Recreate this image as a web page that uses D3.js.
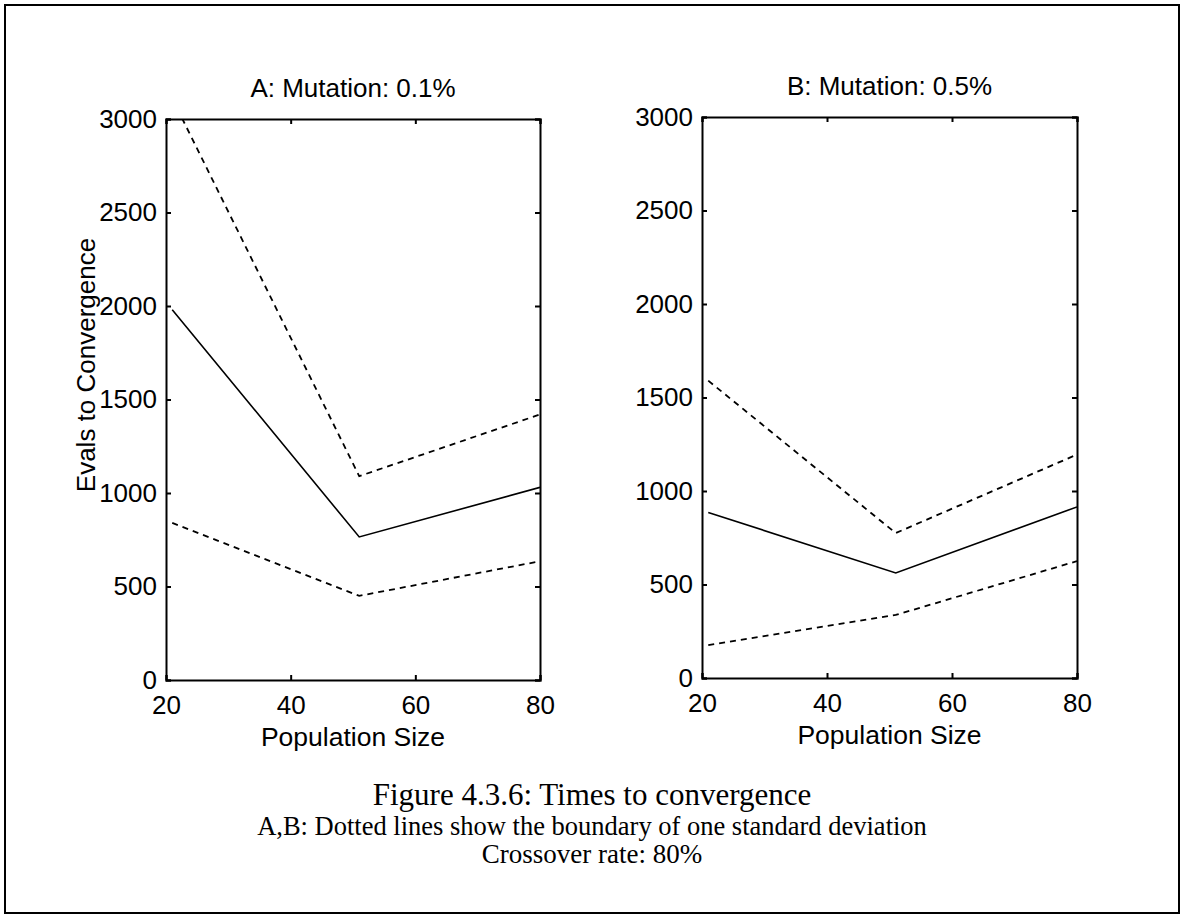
<!DOCTYPE html>
<html>
<head>
<meta charset="utf-8">
<script src="https://cdn.jsdelivr.net/npm/d3@7"></script>
<style>
  body { margin: 0; background: #fff; }
  svg text { fill: #000; }
  .sans { font-family: "Liberation Sans", Arial, sans-serif; }
  .serif { font-family: "Liberation Serif", "Times New Roman", serif; }
</style>
</head>
<body>
<svg id="svg1" width="1183" height="915"></svg>
<script>
// data
var popSize = [21, 51, 80];
var xTicks = [20, 40, 60, 80];
var yTicks = [0, 500, 1000, 1500, 2000, 2500, 3000];

var meanA = [1980, 765, 1030];
var upperA = [3110, 1090, 1420];
var lowerA = [840, 450, 635];

var meanB = [885, 562, 915];
var upperB = [1590, 775, 1195];
var lowerB = [176, 337, 625];

var titles = ['A: Mutation: 0.1%', 'B: Mutation: 0.5%'];
var captionLines = [
  'Figure 4.3.6: Times to convergence',
  'A,B: Dotted lines show the boundary of one standard deviation',
  'Crossover rate: 80%'
];

var svg = d3.select('svg');

// outer frame
svg.append('rect')
  .attr('x', 5).attr('y', 5)
  .attr('width', 1174).attr('height', 908)
  .attr('fill', 'none')
  .attr('stroke', '#000')
  .attr('stroke-width', 2);

var panels = [
  {left: 166, right: 540, top: 119, bottom: 680, title: titles[0], mean: meanA, upper: upperA, lower: lowerA, ylabel: true},
  {left: 702, right: 1077, top: 117, bottom: 678, title: titles[1], mean: meanB, upper: upperB, lower: lowerB, ylabel: false}
];

panels.forEach(function(p, i){

  var x = d3.scaleLinear().domain([20, 80]).range([p.left, p.right]);
  var y = d3.scaleLinear().domain([0, 3000]).range([p.bottom, p.top]);

  var g = svg.append('g');

  // clip the lines to the axes box
  g.append('clipPath').attr('id', 'clip' + i)
    .append('rect')
    .attr('x', p.left).attr('y', p.top)
    .attr('width', p.right - p.left).attr('height', p.bottom - p.top);

  var line = d3.line()
    .x(function(d, j){ return x(popSize[j]); })
    .y(function(d){ return y(d); });

  var series = [
    {values: p.upper, dash: '6,5', w: 1.8},
    {values: p.lower, dash: '6,5', w: 1.8},
    {values: p.mean, dash: null, w: 1.6}
  ];

  g.selectAll('path.series')
    .data(series)
    .enter()
    .append('path')
    .attr('class', 'series')
    .attr('clip-path', 'url(#clip' + i + ')')
    .attr('d', function(d){ return line(d.values); })
    .attr('fill', 'none')
    .attr('stroke', '#000')
    .attr('stroke-width', function(d){ return d.w; })
    .attr('stroke-dasharray', function(d){ return d.dash; });

  // axes, ticks pointing in on all four sides
  var fmt = d3.format('d');
  var axes = [
    {a: d3.axisBottom(x).tickValues(xTicks).tickFormat(fmt).tickSize(-5).tickPadding(16), t: 'translate(0,' + p.bottom + ')', labels: true},
    {a: d3.axisTop(x).tickValues(xTicks).tickSize(-5), t: 'translate(0,' + p.top + ')', labels: false},
    {a: d3.axisLeft(y).tickValues(yTicks).tickFormat(fmt).tickSize(-5).tickPadding(9), t: 'translate(' + p.left + ',0)', labels: true},
    {a: d3.axisRight(y).tickValues(yTicks).tickSize(-5), t: 'translate(' + p.right + ',0)', labels: false}
  ];

  axes.forEach(function(ax){
    var ag = g.append('g')
      .attr('transform', ax.t)
      .call(ax.a);
    ag.select('.domain').attr('stroke', '#000').attr('stroke-width', 2);
    ag.selectAll('.tick line').attr('stroke', '#000').attr('stroke-width', 2);
    ag.selectAll('.tick text')
      .attr('class', 'sans')
      .style('font-size', '26px')
      .attr('fill', '#000');
    if (!ax.labels) ag.selectAll('.tick text').remove();
  });

  // title
  g.append('text')
    .attr('class', 'sans')
    .attr('x', (p.left + p.right) / 2)
    .attr('y', p.top - 22)
    .attr('text-anchor', 'middle')
    .style('font-size', '26px')
    .text(p.title);

  // x label
  g.append('text')
    .attr('class', 'sans')
    .attr('x', (p.left + p.right) / 2)
    .attr('y', p.bottom + 66)
    .attr('text-anchor', 'middle')
    .style('font-size', '26.5px')
    .text('Population Size');

  if (p.ylabel) {
    g.append('text')
      .attr('class', 'sans')
      .attr('transform', 'translate(95,' + 365 + ') rotate(-90)')
      .attr('text-anchor', 'middle')
      .style('font-size', '26px')
      .text('Evals to Convergence');
  }
});

// caption
var capSizes = [31, 26.5, 27];
var capY = [805, 835, 863];
svg.selectAll('text.caption')
  .data(captionLines)
  .enter()
  .append('text')
  .attr('class', 'caption serif')
  .attr('x', 592)
  .attr('y', function(d, i){ return capY[i]; })
  .attr('text-anchor', 'middle')
  .style('font-size', function(d, i){ return capSizes[i] + 'px'; })
  .text(function(d){ return d; });
</script>
</body>
</html>
